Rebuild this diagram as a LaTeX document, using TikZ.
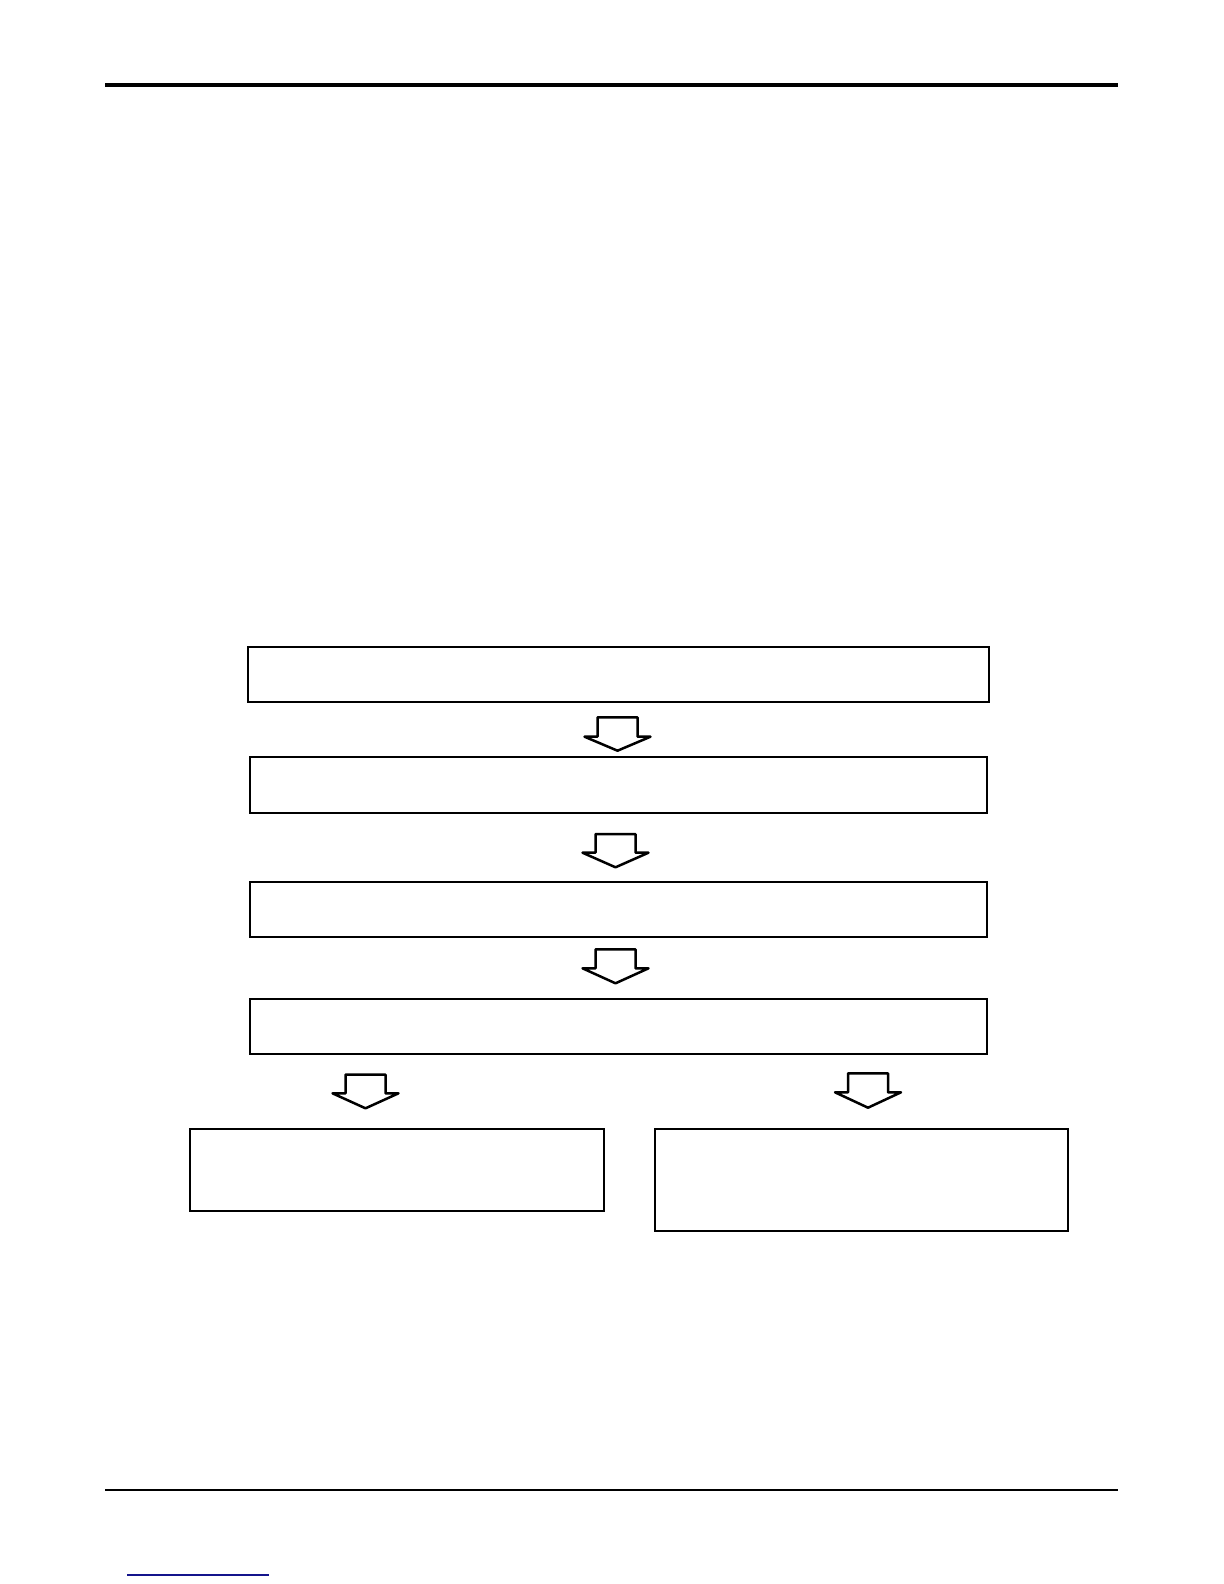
\documentclass[tikz,border=0pt]{standalone}
\usetikzlibrary{fit}
\definecolor{linkblue}{RGB}{20,20,140}
\newcommand{\myblkarrow}[5]{%
  % #1 name, #2 centre x, #3 top y, #4 shoulder y, #5 tip y
  \draw[blk] (#2-20,#3) coordinate (#1) -- (#2+20,#3) -- (#2+20,#4) -- (#2+33,#4)
    -- (#2,#5) -- (#2-33,#4) -- (#2-20,#4) -- cycle;}
\begin{document}
\begin{tikzpicture}[x=0.5pt,y=-0.5pt,
  box/.style={draw,line width=1pt,inner sep=0pt},
  blk/.style={draw,line width=1.25pt,line join=round,fill=white},
  rule/.style={line cap=butt}]
\useasboundingbox (0,0) rectangle (1224,1584);
% header and footer rules
\coordinate (hl) at (105,85);
\coordinate (hr) at (1118,85);
\draw[rule,line width=2.2pt] (hl) -- (hr);
\coordinate (fl) at (105,1490);
\coordinate (fr) at (1118,1490);
\draw[rule,line width=1pt] (fl) -- (fr);
\coordinate (ul) at (127,1575);
\coordinate (ur) at (269,1575);
\draw[rule,line width=0.75pt,linkblue] (ul) -- (ur);
% box corners
\coordinate (b1a) at (248.3,647.3); \coordinate (b1b) at (989.3,702.3);
\coordinate (b2a) at (250.3,757.3); \coordinate (b2b) at (987.3,813.0);
\coordinate (b3a) at (250.3,881.5); \coordinate (b3b) at (987.3,937.3);
\coordinate (b4a) at (250.3,999.3); \coordinate (b4b) at (987.3,1054.3);
\coordinate (b5a) at (190.3,1129.3); \coordinate (b5b) at (604.3,1211.2);
\coordinate (b6a) at (654.7,1129.3); \coordinate (b6b) at (1068.3,1231.0);
\node[box,fit=(b1a)(b1b)] (box1) {};
\node[box,fit=(b2a)(b2b)] (box2) {};
\node[box,fit=(b3a)(b3b)] (box3) {};
\node[box,fit=(b4a)(b4b)] (box4) {};
\node[box,fit=(b5a)(b5b)] (box5) {};
\node[box,fit=(b6a)(b6b)] (box6) {};
% block arrows
\myblkarrow{ar1}{617.5}{717.3}{736.7}{750.7}
\myblkarrow{ar2}{615.5}{834.0}{852.7}{867.3}
\myblkarrow{ar3}{615.5}{949.3}{968.3}{983.3}
\myblkarrow{ar4}{365.5}{1074.7}{1093.3}{1108.3}
\myblkarrow{ar5}{868.0}{1073.3}{1092.3}{1107.7}
\end{tikzpicture}
\end{document}
